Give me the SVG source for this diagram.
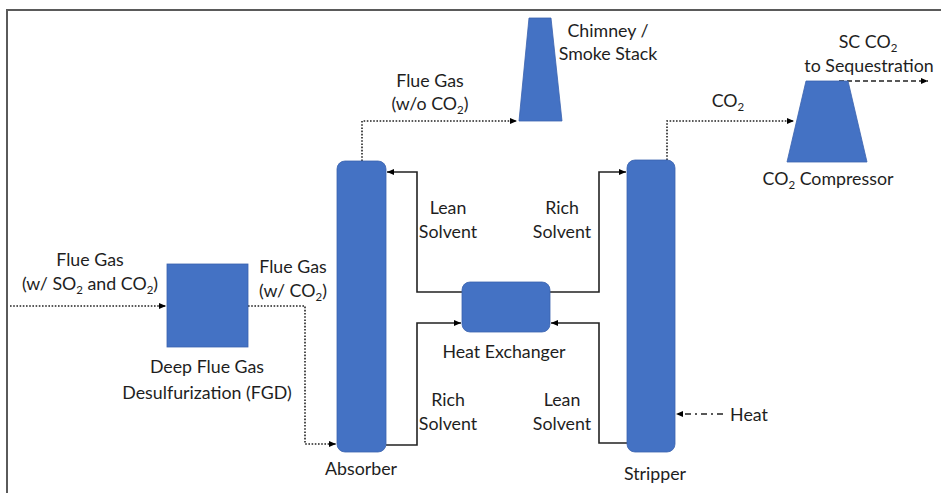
<svg xmlns="http://www.w3.org/2000/svg" width="941" height="493" viewBox="0 0 941 493">
<defs>
<marker id="ah" markerWidth="8" markerHeight="8" refX="7" refY="4" orient="auto" markerUnits="userSpaceOnUse">
<path d="M0,1 L7,4 L0,7 Z" fill="#000"/>
</marker>
<style>
.t{font-family:Lato,"Open Sans","Liberation Sans",sans-serif;font-size:17.8px;fill:#1e1e1e;text-anchor:middle}
.s{font-size:11.5px}
.eq{fill:#4472C4;stroke:#3A62AE;stroke-width:0.8}
.dot{fill:none;stroke:#222;stroke-width:1.6;stroke-dasharray:1.6 1.6}
.sol{fill:none;stroke:#222;stroke-width:1.6}
.dash{fill:none;stroke:#222;stroke-width:1.6;stroke-dasharray:5 3}
.dd{fill:none;stroke:#222;stroke-width:1.4;stroke-dasharray:6 4 2 4}
</style>
</defs>
<rect width="941" height="493" fill="#fff"/>
<path d="M7,493 L7,10 L941,10" fill="none" stroke="#5a5a5a" stroke-width="2"/>

<g id="connectors">
<path class="dot" d="M10,306 L166,306" marker-end="url(#ah)"/>
<path class="dot" d="M248,306 L305,306 L305,444 L336,444" marker-end="url(#ah)"/>
<path class="dot" d="M362,161 L362,121 L517,121" marker-end="url(#ah)"/>
<path class="dot" d="M667,160 L667,121 L794,121" marker-end="url(#ah)"/>
<path class="dash" d="M839,81 L928,81" marker-end="url(#ah)"/>
<path class="sol" d="M462,292 L417,292 L417,172 L387,172" marker-end="url(#ah)"/>
<path class="sol" d="M386,445 L417,445 L417,323 L461,323" marker-end="url(#ah)"/>
<path class="sol" d="M550,292 L599,292 L599,172 L626,172" marker-end="url(#ah)"/>
<path class="sol" d="M627,443 L599,443 L599,323 L551,323" marker-end="url(#ah)"/>
<path class="dd" d="M723,414 L676,414" marker-end="url(#ah)"/>
</g>

<g id="fgd">
<rect class="eq" x="167" y="264" width="81" height="83"/>
<text class="t" x="207" y="373">Deep Flue Gas</text>
<text class="t" x="207" y="399">Desulfurization (FGD)</text>
</g>
<g id="absorber">
<rect class="eq" x="337" y="161" width="49" height="291" rx="8"/>
<text class="t" x="361" y="475">Absorber</text>
</g>
<g id="stripper">
<rect class="eq" x="627" y="160" width="48" height="292" rx="8"/>
<text class="t" x="655" y="480">Stripper</text>
</g>
<g id="hx">
<rect class="eq" x="462" y="282" width="88" height="50" rx="8"/>
<text class="t" x="504" y="358">Heat Exchanger</text>
</g>
<g id="chimney">
<polygon class="eq" points="529,18 551,18 562,121 519,121"/>
<text class="t" x="608" y="37">Chimney /</text>
<text class="t" x="608" y="60">Smoke Stack</text>
</g>
<g id="compressor">
<polygon class="eq" points="806,81 848,81 867,162 787,162"/>
<text class="t" x="828" y="185">CO<tspan class="s" dy="4">2</tspan><tspan dy="-4"> Compressor</tspan></text>
</g>

<g id="labels">
<text class="t" x="90" y="266">Flue Gas</text>
<text class="t" x="90" y="290">(w/ SO<tspan class="s" dy="4">2</tspan><tspan dy="-4"> and CO</tspan><tspan class="s" dy="4">2</tspan><tspan dy="-4">)</tspan></text>
<text class="t" x="293" y="273">Flue Gas</text>
<text class="t" x="293" y="297">(w/ CO<tspan class="s" dy="4">2</tspan><tspan dy="-4">)</tspan></text>
<text class="t" x="430" y="87">Flue Gas</text>
<text class="t" x="430" y="110">(w/o CO<tspan class="s" dy="4">2</tspan><tspan dy="-4">)</tspan></text>
<text class="t" x="728" y="107">CO<tspan class="s" dy="4">2</tspan></text>
<text class="t" x="868" y="48">SC CO<tspan class="s" dy="4">2</tspan></text>
<text class="t" x="869" y="72">to Sequestration</text>
<text class="t" x="448" y="214">Lean</text>
<text class="t" x="448" y="238">Solvent</text>
<text class="t" x="562" y="214">Rich</text>
<text class="t" x="562" y="238">Solvent</text>
<text class="t" x="448" y="406">Rich</text>
<text class="t" x="448" y="430">Solvent</text>
<text class="t" x="562" y="406">Lean</text>
<text class="t" x="562" y="430">Solvent</text>
<text class="t" x="749" y="421">Heat</text>
</g>
</svg>
